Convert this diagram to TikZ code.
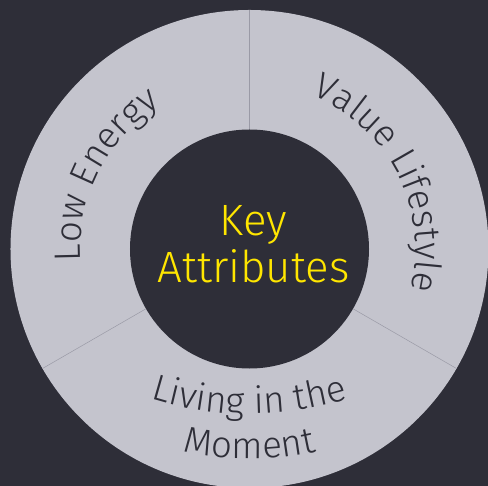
\documentclass[tikz,border=0pt]{standalone}
\usepackage{fontspec}
\setmainfont{Fira Sans}[UprightFont={* Light}]
\usetikzlibrary{decorations.text}

\definecolor{eydark}{HTML}{2E2E38}
\definecolor{eygray}{HTML}{C4C4CD}
\definecolor{eyyellow}{HTML}{FFE600}
\definecolor{divider}{HTML}{9A9AA6}
\newcommand{\ringfont}{\fontsize{37}{40}\selectfont}

\begin{document}
\begin{tikzpicture}[x=1bp, y=1bp,
  arclabel/.style={decorate, decoration={text along path, text align=center,
    text color=eydark, text={|\ringfont|#1}}}]
\fill[eydark] (-249.5,-237) rectangle (238.5,249);
\useasboundingbox (-249.5,-237) rectangle (238.5,249);

\node[circle, fill=eygray, inner sep=0pt, minimum size=478bp] (ring) at (0,0) {};
\node[circle, fill=eydark, inner sep=0pt, minimum size=239bp] (hub) at (0,0) {};
\node[text=eyyellow, align=center, font=\fontsize{44}{47}\selectfont] (title) at (4,5) {Key\\Attributes};

\draw[divider, line width=0.5bp] (hub.90) -- (ring.90);
\draw[divider, line width=0.5bp] (hub.210) -- (ring.210);
\draw[divider, line width=0.5bp] (hub.330) -- (ring.330);

\path[arclabel={Low Energy}] (233:169) arc[start angle=233, end angle=73, radius=169];
\path[arclabel={Value Lifestyle}] (107:166) arc[start angle=107, end angle=-53, radius=166];
\path[arclabel={Living in the}] (0,165) ++(235:330) arc[start angle=235, end angle=305, radius=330];
\path[arclabel={Moment}] (0,90) ++(250:300) arc[start angle=250, end angle=290, radius=300];
\end{tikzpicture}
\end{document}
